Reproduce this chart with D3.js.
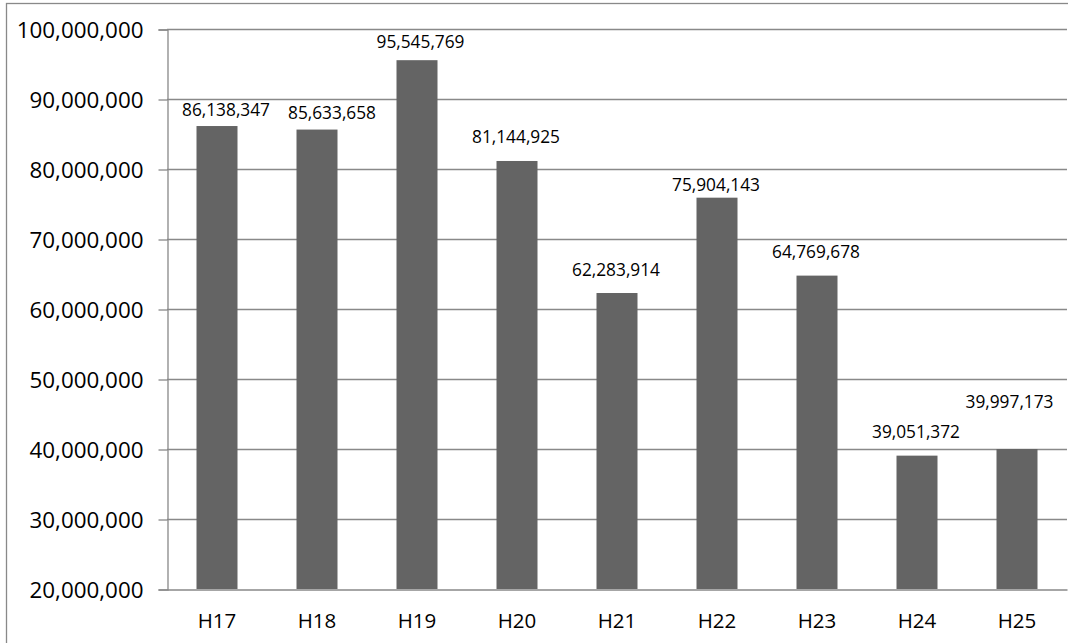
<!DOCTYPE html>
<html>
<head>
<meta charset="utf-8">
<script src="https://cdn.jsdelivr.net/npm/d3@7"></script>
<style>
  html, body { margin: 0; padding: 0; background: #fff; overflow: hidden; }
  svg { display: block; }
  text { font-family: "Open Sans", "Noto Sans", sans-serif; fill: #000; }
</style>
</head>
<body>
<svg id="chart" width="1068" height="643"></svg>
<script>
// ---- data ----
const categories = ["H17", "H18", "H19", "H20", "H21", "H22", "H23", "H24", "H25"];
const values = [86138347, 85633658, 95545769, 81144925, 62283914, 75904143, 64769678, 39051372, 39997173];
const yTicks = [20000000, 30000000, 40000000, 50000000, 60000000, 70000000, 80000000, 90000000, 100000000];

// ---- layout (label placement as in the original chart) ----
const labelLift = [10, 10.5, 12, 17.5, 17, 7, 17.5, 18, 41];
const labelShift = [9, 15, 3.5, -1, -1, -1, -1, -1, -7.5];

const svg = d3.select("#chart");
const plotLeft = 167, plotRight = 1067, plotTop = 29, plotBottom = 589;
const gridColor = "#898989";

// outer frame (continues beyond the visible area)
svg.append("rect")
  .attr("x", 6.5).attr("y", 3.5)
  .attr("width", 1200).attr("height", 800)
  .attr("fill", "none").attr("stroke", gridColor).attr("stroke-width", 1.3);

const x = d3.scaleBand().domain(categories).range([plotLeft, plotRight])
  .paddingInner(0.59).paddingOuter(0.295);
const y = d3.scaleLinear().domain([20000000, 100000000]).range([plotBottom, plotTop]);

const fmt = d3.format(",");

// gridlines
svg.append("g").selectAll("line")
  .data(yTicks.filter(t => t > 20000000))
  .join("line")
  .attr("x1", plotLeft).attr("x2", plotRight)
  .attr("y1", d => Math.round(y(d)) + 0.5).attr("y2", d => Math.round(y(d)) + 0.5)
  .attr("stroke", gridColor).attr("stroke-width", 1.3);

// y axis
const yAxis = d3.axisLeft(y).tickValues(yTicks).tickFormat(fmt).tickSize(9).tickPadding(15);
const gy = svg.append("g").attr("transform", `translate(${plotLeft + 0.5},0.5)`).call(yAxis);
gy.select(".domain").attr("stroke", gridColor).attr("stroke-width", 1.3);
gy.selectAll(".tick line").attr("stroke", gridColor).attr("stroke-width", 1.3);
gy.selectAll(".tick text")
  .style("font-family", "'Open Sans', sans-serif")
  .attr("font-size", 22.4).attr("fill", "#000").attr("dy", "0.34em");

// bars
svg.append("g").selectAll("rect")
  .data(values)
  .join("rect")
  .attr("x", (d, i) => x(categories[i]))
  .attr("y", d => y(d))
  .attr("width", x.bandwidth())
  .attr("height", d => y(20000000) - y(d))
  .attr("fill", "#646464");

// x axis baseline
const xAxis = d3.axisBottom(x).tickSize(0).tickPadding(0);
const gx = svg.append("g").attr("transform", `translate(0,${plotBottom + 0.5})`).call(xAxis);
gx.select(".domain").attr("stroke", gridColor).attr("stroke-width", 1.3);
gx.selectAll(".tick text")
  .style("font-family", "'Open Sans', sans-serif")
  .attr("font-size", 20.5).attr("fill", "#000")
  .attr("y", 0).attr("dy", 38.5);

// data labels
svg.append("g").selectAll("text")
  .data(values)
  .join("text")
  .attr("x", (d, i) => x(categories[i]) + x.bandwidth() / 2 + labelShift[i])
  .attr("y", (d, i) => y(d) - labelLift[i])
  .attr("text-anchor", "middle")
  .attr("font-size", 17.3)
  .text(d => fmt(d));
</script>
</body>
</html>
